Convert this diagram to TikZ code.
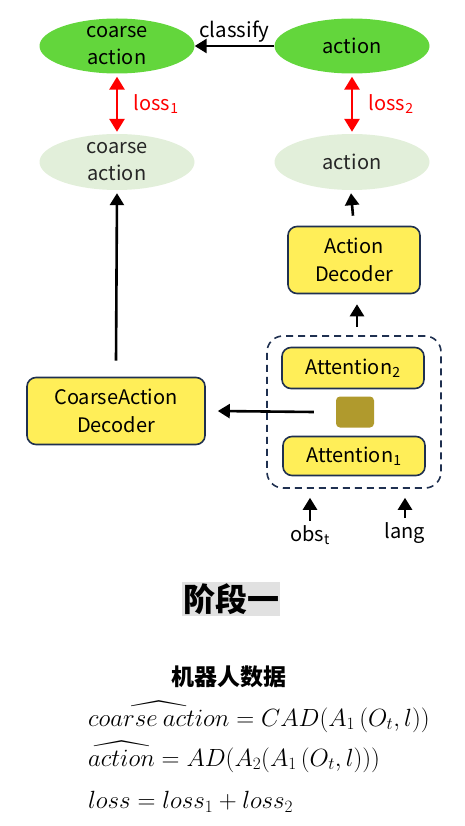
\documentclass[tikz,border=0pt]{standalone}
\usepackage{amsmath,amssymb}
\usepackage{fontspec}
\setmainfont{Noto Sans CJK SC}
\usepackage{tikz}
\usetikzlibrary{shapes,arrows,positioning,calc,arrows.meta}

\definecolor{goalgreen}{RGB}{99,214,60}
\definecolor{predgreen}{RGB}{226,239,218}
\definecolor{boxyellow}{RGB}{255,238,88}
\definecolor{boxnavy}{RGB}{31,48,80}
\definecolor{mixolive}{RGB}{176,154,45}
\definecolor{taggray}{RGB}{225,225,225}

\begin{document}
\begin{tikzpicture}[
        x=1pt, y=-1pt,
        goal/.style={ellipse, fill=goalgreen, minimum width=155pt, minimum height=55pt, inner sep=0pt, align=center, font=\fontsize{20}{27}\selectfont},
        pred/.style={ellipse, fill=predgreen, minimum width=155pt, minimum height=56pt, inner sep=0pt, align=center, font=\fontsize{20}{27}\selectfont, text=black!85},
        block/.style={draw=boxnavy, line width=1.6pt, fill=boxyellow, rounded corners=9pt, align=center, inner sep=0pt, font=\fontsize{20}{28}\selectfont},
        flow/.style={-{Triangle[length=12pt,width=14pt]}, line width=2.6pt},
        lossarrow/.style={{Triangle[length=13pt,width=15pt]}-{Triangle[length=13pt,width=15pt]}, line width=2.8pt, red},
        formula/.style={anchor=west, inner sep=0pt, font=\fontsize{23.5}{26}\selectfont}
    ]
        \useasboundingbox (0,0) rectangle (465,826);

        % targets and predictions
        \node[goal] (cgoal) at (117,46) {coarse\\action};
        \node[goal] (agoal) at (352,46) {action};
        \node[pred] (cpred) at (117,162) {coarse\\action};
        \node[pred] (apred) at (352,162) {action};

        % decoders
        \node[block, minimum width=132pt, minimum height=67pt] (adec) at (354,260) {Action\\Decoder};
        \node[block, minimum width=178pt, minimum height=67pt] (cdec) at (116,411) {CoarseAction\\Decoder};

        % attention group
        \node[draw=boxnavy, line width=1.6pt, dashed, dash pattern=on 7pt off 5pt, rounded corners=16pt,
              minimum width=174pt, minimum height=152pt] (grp) at (354,412) {};
        \node[block, minimum width=142pt, minimum height=41pt] (att2) at (353,368) {Attention\textsubscript{2}};
        \node[fill=mixolive, rounded corners=4pt, minimum width=38pt, minimum height=31pt] (mix) at (355,412) {};
        \node[block, minimum width=142pt, minimum height=39pt] (att1) at (354,456) {Attention\textsubscript{1}};

        % inputs
        \node[font=\fontsize{20}{24}\selectfont] (obs) at (310,535) {obs\textsubscript{t}};
        \node[font=\fontsize{20}{24}\selectfont] (lang) at (405,533) {lang};

        % connectors
        \draw[flow] (agoal.west) -- node[above=-1pt, font=\fontsize{20.5}{22}\selectfont] {classify} (cgoal.east);
        \draw[lossarrow] ([yshift=-3pt]cgoal.south) -- node[right=12pt, font=\fontsize{20}{24}\selectfont] {loss\textsubscript{1}} ([yshift=2pt]cpred.north);
        \draw[lossarrow] ([yshift=-3pt]agoal.south) -- node[right=12pt, font=\fontsize{20}{24}\selectfont] {loss\textsubscript{2}} ([yshift=2pt]apred.north);
        \draw[flow] ([yshift=16pt]cdec.north) -- ([yshift=-3pt]cpred.south);
        \draw[flow] ([xshift=-1pt,yshift=10pt]adec.north) -- ([xshift=-1pt,yshift=-3pt]apred.south);
        \draw[flow] ([xshift=3pt,yshift=8pt]grp.north) -- ([xshift=3pt,yshift=-10pt]adec.south);
        \draw[flow] ([xshift=-22pt]mix.west) -- ([xshift=12pt]cdec.east);
        \draw[flow] ([yshift=1pt]obs.north) -- ([xshift=-44pt,yshift=-9pt]grp.south);
        \draw[flow] ([yshift=1pt]lang.north) -- ([xshift=51pt,yshift=-9pt]grp.south);

        % stage caption and formulas
        \node[fill=taggray, inner sep=1pt, font=\fontsize{32}{34}\selectfont\bfseries] (stage) at (231,599) {阶段一};
        \node[font=\fontsize{23}{25}\selectfont\bfseries] (data) at (229,677) {机器人数据};
        \node[formula] (eq1) at (88,720) {$\smash{\widehat{coarse\ action}} = CAD(A_1\,(O_t,l))$};
        \node[formula] (eq2) at (88,760) {$\smash{\widehat{action}} = AD(A_2(A_1\,(O_t,l)))$};
        \node[formula] (eq3) at (88,802) {$loss = loss_1 + loss_2$};
\end{tikzpicture}
\end{document}
